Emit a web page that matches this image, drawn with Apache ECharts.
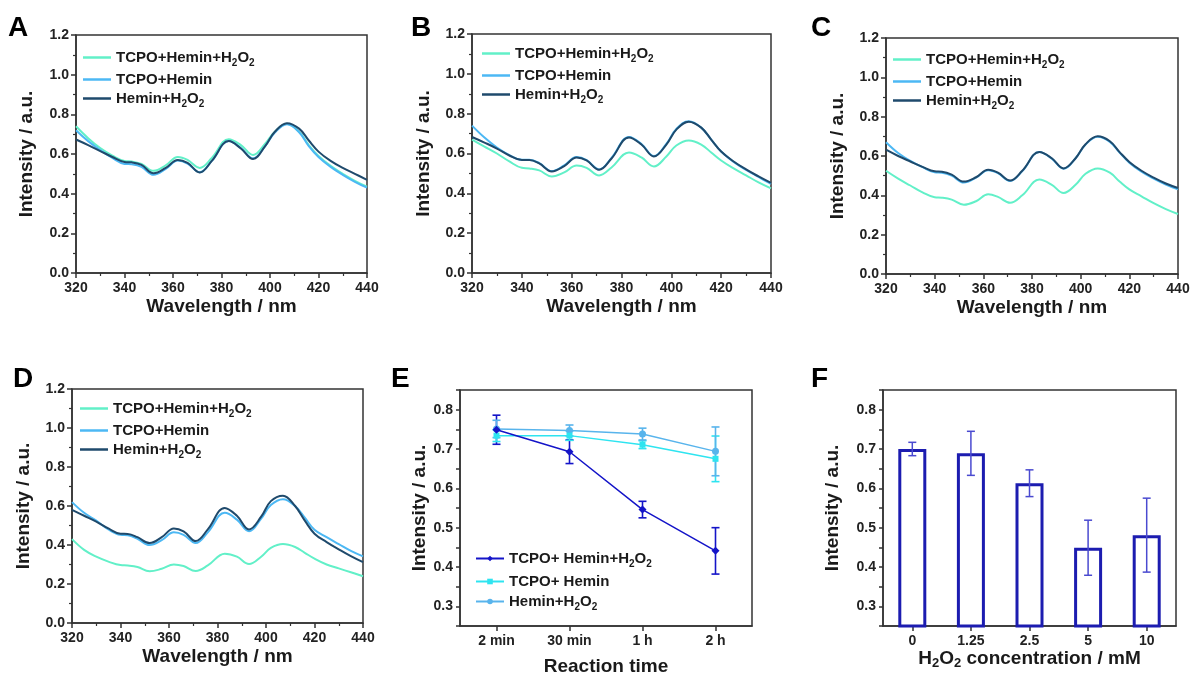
<!DOCTYPE html>
<html><head><meta charset="utf-8">
<script src="https://cdn.jsdelivr.net/npm/echarts@6/dist/echarts.min.js"></script>
<style>html,body{margin:0;padding:0;background:#fff}#c{width:1193px;height:675px}</style>
</head><body><div id="c"></div>
<script>
// ---------- DATA ----------
const wavelengths = [320,325,330,335,340,343,347,352,357,362,366,371,376,383,388,393,398,402,407,412,416,420,425,430,435,440];
const seriesLabels = ['TCPO+Hemin+H2O2', 'TCPO+Hemin', 'Hemin+H2O2'];

const specA_mix    = [0.740,0.680,0.630,0.592,0.565,0.562,0.550,0.515,0.543,0.585,0.570,0.530,0.580,0.675,0.645,0.595,0.652,0.712,0.752,0.712,0.645,0.590,0.540,0.500,0.465,0.435];
const specA_tcpo   = [0.720,0.665,0.620,0.580,0.550,0.548,0.535,0.495,0.525,0.567,0.552,0.508,0.565,0.665,0.630,0.578,0.640,0.708,0.750,0.710,0.640,0.585,0.535,0.495,0.460,0.430];
const specA_hemin  = [0.673,0.645,0.615,0.585,0.560,0.558,0.545,0.503,0.530,0.570,0.555,0.507,0.565,0.665,0.628,0.575,0.640,0.712,0.755,0.728,0.668,0.612,0.565,0.530,0.500,0.470];

const specB_mix    = [0.670,0.635,0.600,0.560,0.528,0.525,0.515,0.485,0.505,0.540,0.528,0.490,0.530,0.605,0.580,0.535,0.585,0.640,0.665,0.645,0.605,0.565,0.525,0.490,0.455,0.425];
const specB_tcpo   = [0.740,0.680,0.630,0.592,0.568,0.568,0.552,0.512,0.540,0.582,0.567,0.520,0.578,0.683,0.648,0.587,0.648,0.723,0.762,0.730,0.670,0.610,0.558,0.518,0.482,0.447];
const specB_hemin  = [0.683,0.655,0.625,0.590,0.567,0.567,0.550,0.510,0.537,0.580,0.565,0.518,0.575,0.680,0.645,0.585,0.645,0.720,0.760,0.730,0.670,0.610,0.560,0.520,0.485,0.452];

const specC_mix    = [0.525,0.485,0.450,0.415,0.390,0.388,0.378,0.352,0.370,0.405,0.392,0.362,0.400,0.480,0.455,0.412,0.455,0.510,0.537,0.515,0.470,0.430,0.395,0.360,0.330,0.305];
const specC_tcpo   = [0.670,0.615,0.575,0.543,0.517,0.515,0.500,0.465,0.490,0.528,0.513,0.473,0.523,0.620,0.588,0.535,0.590,0.658,0.698,0.672,0.617,0.566,0.520,0.485,0.455,0.430];
const specC_hemin  = [0.632,0.600,0.572,0.545,0.522,0.520,0.505,0.470,0.492,0.530,0.515,0.475,0.525,0.620,0.590,0.537,0.590,0.660,0.700,0.675,0.620,0.570,0.525,0.490,0.460,0.437];

const specD_mix    = [0.430,0.375,0.340,0.315,0.297,0.295,0.287,0.265,0.278,0.300,0.292,0.267,0.295,0.355,0.340,0.302,0.340,0.385,0.405,0.390,0.360,0.330,0.300,0.280,0.260,0.240];
const specD_tcpo   = [0.620,0.565,0.525,0.480,0.452,0.450,0.432,0.400,0.425,0.465,0.452,0.410,0.465,0.565,0.530,0.470,0.535,0.605,0.635,0.600,0.540,0.478,0.440,0.405,0.370,0.342];
const specD_hemin  = [0.580,0.550,0.520,0.485,0.458,0.457,0.440,0.410,0.440,0.485,0.470,0.420,0.480,0.590,0.550,0.480,0.545,0.625,0.653,0.600,0.525,0.458,0.415,0.378,0.343,0.312];

const timeCats   = ['2 min','30 min','1 h','2 h'];
const timeLabels = ['TCPO+ Hemin+H2O2', 'TCPO+ Hemin', 'Hemin+H2O2'];
const eMix       = [0.749, 0.693, 0.546, 0.441];
const eMixErr    = [0.037, 0.030, 0.021, 0.059];
const eTcpo      = [0.734, 0.734, 0.711, 0.675];
const eTcpoErr   = [0.015, 0.012, 0.010, 0.058];
const eHemin     = [0.751, 0.747, 0.738, 0.694];
const eHeminErr  = [0.022, 0.014, 0.015, 0.062];

const concCats = ['0','1.25','2.5','5','10'];
const fVals    = [0.700, 0.689, 0.613, 0.449, 0.481];
const fErr     = [0.017, 0.056, 0.034, 0.070, 0.094];

const specYTicks = [0, 0.2, 0.4, 0.6, 0.8, 1.0, 1.2];

// ---------- STYLE ----------
const FONT = 'Liberation Sans, Arial, Helvetica, sans-serif';
const AX = '#333333';
const TXT = '#1a1a1a';
const C_MINT = '#62f0c8', C_LIGHT = '#4cb8f4', C_DARK = '#1f4a6c';
const E_COLORS = ['#1414c8', '#2ee4f0', '#58b4ec'];

function rich(s) {
  return s.split(/(H2O2)/).map(p => p === 'H2O2' ? '{n|H}{s|2}{n|O}{s|2}' : (p ? '{n|' + p + '}' : '')).join('');
}
function richStyle(size, lh) {
  return {
    n: {fontSize: size, fontWeight: 'bold', fontFamily: FONT, color: TXT, lineHeight: lh || 22, verticalAlign: 'middle'},
    s: {fontSize: Math.round(size * 0.68), fontWeight: 'bold', fontFamily: FONT, color: TXT, lineHeight: 10, verticalAlign: 'bottom'}
  };
}

const grids = [], xAxes = [], yAxes = [], series = [], legends = [], graphics = [];
const gridBase = {show: true, borderColor: AX, borderWidth: 1.5, backgroundColor: 'transparent', containLabel: false, outerBoundsMode: 'none'};

function commonAxis() {
  return {
    axisLine: {show: true, onZero: false, lineStyle: {color: AX, width: 1.5}},
    axisTick: {show: true, inside: false, length: 5, lineStyle: {color: AX, width: 1.5}},
    axisLabel: {color: '#222', fontSize: 14, fontWeight: 'bold', fontFamily: FONT},
    splitLine: {show: false},
    nameTextStyle: {color: TXT, fontSize: 19, fontWeight: 'bold', fontFamily: FONT},
    nameLocation: 'middle'
  };
}

const specPanels = [
  {key: 'A', grid: {left: 76, top: 35, width: 291, height: 238}, leg: {left: 83, top: 50}, yGap: 40, lab: [8, 14], d: [specA_mix, specA_tcpo, specA_hemin]},
  {key: 'B', grid: {left: 472, top: 34, width: 299, height: 239}, leg: {left: 482, top: 46}, yGap: 39, lab: [411, 14], d: [specB_mix, specB_tcpo, specB_hemin]},
  {key: 'C', grid: {left: 886, top: 38, width: 292, height: 236}, leg: {left: 893, top: 52}, yGap: 39, lab: [811, 14], d: [specC_mix, specC_tcpo, specC_hemin]},
  {key: 'D', grid: {left: 72, top: 389, width: 291, height: 234}, leg: {left: 80, top: 401}, yGap: 39, lab: [13, 365], d: [specD_mix, specD_tcpo, specD_hemin]}
];
const specColors = [C_MINT, C_LIGHT, C_DARK];

specPanels.forEach((p, gi) => {
  grids.push(Object.assign({}, gridBase, p.grid));
  xAxes.push(Object.assign(commonAxis(), {
    gridIndex: gi, type: 'value', min: 320, max: 440, interval: 20,
    name: 'Wavelength / nm', nameGap: 24,
    minorTick: {show: true, splitNumber: 2, length: 3, lineStyle: {color: AX, width: 1.2}},
    minorSplitLine: {show: false}
  }));
  const ya = commonAxis();
  ya.axisLabel.formatter = v => v.toFixed(1);
  ya.axisLabel.margin = 7;
  yAxes.push(Object.assign(ya, {
    gridIndex: gi, type: 'value', min: specYTicks[0], max: specYTicks[specYTicks.length - 1], interval: 0.2,
    name: 'Intensity / a.u.', nameGap: p.yGap,
    minorTick: {show: true, splitNumber: 2, length: 3, lineStyle: {color: AX, width: 1.2}}
  }));
  const names = [];
  p.d.forEach((arr, si) => {
    const nm = p.key + '::' + seriesLabels[si];
    names.push(nm);
    series.push({
      name: nm, type: 'line', xAxisIndex: gi, yAxisIndex: gi,
      data: wavelengths.map((w, i) => [w, arr[i]]),
      smooth: 0.4, showSymbol: false, symbol: 'none',
      lineStyle: {color: specColors[si], width: 2}, itemStyle: {color: specColors[si]},
      z: 2 + si
    });
  });
  legends.push({
    data: names, left: p.leg.left, top: p.leg.top, orient: 'vertical', itemGap: 4, padding: 0,
    icon: 'rect', itemWidth: 28, itemHeight: 2.5, selectedMode: false,
    formatter: n => rich(n.split('::')[1]),
    textStyle: {rich: richStyle(15, 21)}
  });
  graphics.push({type: 'text', left: p.lab[0], top: p.lab[1], style: {text: p.key, font: 'bold 28px ' + FONT, fill: '#000'}});
});

// error-bar renderer
function errRender(color, cap, width) {
  return function (params, api) {
    const x = api.value(0);
    const lo = api.coord([x, api.value(1)]);
    const hi = api.coord([x, api.value(2)]);
    const st = {stroke: color, lineWidth: width};
    return {type: 'group', children: [
      {type: 'line', shape: {x1: lo[0], y1: lo[1], x2: hi[0], y2: hi[1]}, style: st},
      {type: 'line', shape: {x1: lo[0] - cap, y1: lo[1], x2: lo[0] + cap, y2: lo[1]}, style: st},
      {type: 'line', shape: {x1: hi[0] - cap, y1: hi[1], x2: hi[0] + cap, y2: hi[1]}, style: st}
    ]};
  };
}

// ---------- Panel E ----------
{
  const gi = grids.length;
  grids.push(Object.assign({}, gridBase, {left: 460, top: 390, width: 292, height: 236}));
  xAxes.push(Object.assign(commonAxis(), {
    gridIndex: gi, type: 'category', data: timeCats, boundaryGap: true,
    axisTick: {show: true, alignWithLabel: true, length: 5, lineStyle: {color: AX, width: 1.5}},
    name: 'Reaction time', nameGap: 31
  }));
  const ya = commonAxis();
  ya.axisLabel.formatter = v => (Math.abs(v * 10 - Math.round(v * 10)) < 1e-6 ? v.toFixed(1) : '');
  ya.axisLabel.margin = 7;
  ya.axisTick.length = 4;
  yAxes.push(Object.assign(ya, {
    gridIndex: gi, type: 'value', min: 0.25, max: 0.85, interval: 0.05,
    name: 'Intensity / a.u.', nameGap: 30
  }));
  const vals = [eMix, eTcpo, eHemin], errs = [eMixErr, eTcpoErr, eHeminErr];
  const syms = ['diamond', 'rect', 'circle'], sizes = [8, 6, 7];
  const names = [];
  vals.forEach((v, si) => {
    const nm = 'E::' + timeLabels[si];
    names.push(nm);
    series.push({
      name: 'E-err-' + si, type: 'custom', xAxisIndex: gi, yAxisIndex: gi,
      renderItem: errRender(E_COLORS[si], 4, 1.6),
      data: v.map((y, i) => [i, y - errs[si][i], y + errs[si][i]]),
      encode: {x: 0, y: [1, 2]}, z: 3 + si, silent: true
    });
    series.push({
      name: nm, type: 'line', xAxisIndex: gi, yAxisIndex: gi, data: v,
      symbol: syms[si], symbolSize: sizes[si], showSymbol: true,
      lineStyle: {color: E_COLORS[si], width: 1.5}, itemStyle: {color: E_COLORS[si]},
      z: 6 - si
    });
  });
  legends.push({
    data: names, left: 475, top: 551, orient: 'vertical', itemGap: 5, padding: 0,
    itemWidth: 28, itemHeight: 7, selectedMode: false,
    formatter: n => rich(n.split('::')[1]),
    textStyle: {rich: richStyle(15, 21)}
  });
  graphics.push({type: 'text', left: 391, top: 365, style: {text: 'E', font: 'bold 28px ' + FONT, fill: '#000'}});
}

// ---------- Panel F ----------
{
  const gi = grids.length;
  grids.push(Object.assign({}, gridBase, {left: 883, top: 390, width: 293, height: 236}));
  const xa = commonAxis();
  xa.nameTextStyle = {rich: richStyle(19, 24)};
  xa.nameTextStyle.rich.s.fontSize = 13;
  xAxes.push(Object.assign(xa, {
    gridIndex: gi, type: 'category', data: concCats, boundaryGap: true,
    axisTick: {show: true, alignWithLabel: true, length: 5, lineStyle: {color: AX, width: 1.5}},
    name: rich('H2O2 concentration / mM'), nameGap: 19
  }));
  const ya = commonAxis();
  ya.axisLabel.formatter = v => (Math.abs(v * 10 - Math.round(v * 10)) < 1e-6 ? v.toFixed(1) : '');
  ya.axisLabel.margin = 7;
  ya.axisTick.length = 4;
  yAxes.push(Object.assign(ya, {
    gridIndex: gi, type: 'value', min: 0.25, max: 0.85, interval: 0.05,
    name: 'Intensity / a.u.', nameGap: 41
  }));
  series.push({
    name: 'F-bars', type: 'bar', xAxisIndex: gi, yAxisIndex: gi, data: fVals, barWidth: 28,
    itemStyle: {color: '#ffffff', borderColor: '#1c1cb0', borderWidth: 3}, z: 2
  });
  series.push({
    name: 'F-err', type: 'custom', xAxisIndex: gi, yAxisIndex: gi,
    renderItem: errRender('#4a4ad0', 4, 1.5),
    data: fVals.map((y, i) => [i, y - fErr[i], y + fErr[i]]),
    encode: {x: 0, y: [1, 2]}, z: 4, silent: true
  });
  graphics.push({type: 'text', left: 811, top: 365, style: {text: 'F', font: 'bold 28px ' + FONT, fill: '#000'}});
}

const chart = echarts.init(document.getElementById('c'), null, {renderer: 'canvas'});
chart.setOption({
  animation: false,
  backgroundColor: '#ffffff',
  textStyle: {fontFamily: FONT},
  grid: grids, xAxis: xAxes, yAxis: yAxes, series: series, legend: legends, graphic: graphics
});
</script></body></html>
